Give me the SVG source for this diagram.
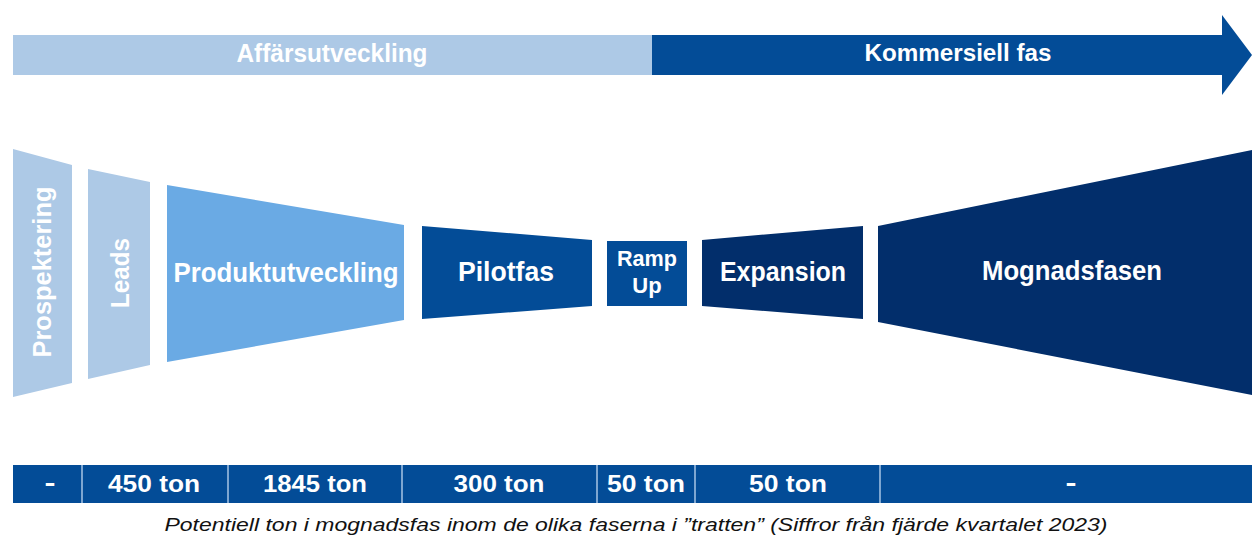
<svg xmlns="http://www.w3.org/2000/svg" width="1252" height="535" viewBox="0 0 1252 535">
  <style>
    .lbl { font-family: "Liberation Sans", Arial, sans-serif; font-weight: bold; fill: #ffffff; }
    .light { fill: #adc9e6; }
    .mid { fill: #6aaae4; }
    .blue { fill: #034c97; }
    .dark { fill: #022e6b; }
    .div { stroke: #a9c4e4; stroke-width: 1.5; }
    .cap { font-family: "Liberation Sans", Arial, sans-serif; font-style: italic; fill: #111111; }
  </style>
  <rect width="1252" height="535" fill="#ffffff"/>

  <!-- Top phase arrow -->
  <g id="phase-affarsutveckling">
    <rect class="light" x="13" y="35" width="640" height="40"/>
    <text class="lbl" x="332" y="62" font-size="25" text-anchor="middle" textLength="191" lengthAdjust="spacingAndGlyphs">Affärsutveckling</text>
  </g>
  <g id="phase-kommersiell">
    <polygon class="blue" points="652,35 1222,35 1222,15 1252,55 1222,95 1222,75 652,75"/>
    <text class="lbl" x="958" y="61" font-size="24" text-anchor="middle" textLength="187" lengthAdjust="spacingAndGlyphs">Kommersiell  fas</text>
  </g>

  <!-- Funnel stages -->
  <g id="prospektering">
    <polygon class="light" points="13,149 72,165 72,383 13,397"/>
    <text class="lbl" font-size="26" text-anchor="middle" transform="translate(51,272) rotate(-90)" textLength="171" lengthAdjust="spacingAndGlyphs">Prospektering</text>
  </g>
  <g id="leads">
    <polygon class="light" points="88,169 150,182 150,365 88,379"/>
    <text class="lbl" font-size="26" text-anchor="middle" transform="translate(129,273) rotate(-90)" textLength="70" lengthAdjust="spacingAndGlyphs">Leads</text>
  </g>
  <g id="produktutveckling">
    <polygon class="mid" points="167,185 404,225 404,320 167,362"/>
    <text class="lbl" x="286" y="282" font-size="28" text-anchor="middle" textLength="225" lengthAdjust="spacingAndGlyphs">Produktutveckling</text>
  </g>
  <g id="pilotfas">
    <polygon class="blue" points="422,226 592,240 592,306 422,319"/>
    <text class="lbl" x="506" y="281" font-size="27" text-anchor="middle" textLength="96" lengthAdjust="spacingAndGlyphs">Pilotfas</text>
  </g>
  <g id="ramp-up">
    <rect class="blue" x="607" y="241" width="80" height="65"/>
    <text class="lbl" x="647" y="266" font-size="22" text-anchor="middle" textLength="60" lengthAdjust="spacingAndGlyphs">Ramp</text>
    <text class="lbl" x="647" y="293" font-size="22" text-anchor="middle">Up</text>
  </g>
  <g id="expansion">
    <polygon class="dark" points="702,240 863,226 863,319 702,306"/>
    <text class="lbl" x="783" y="281" font-size="27" text-anchor="middle" textLength="126" lengthAdjust="spacingAndGlyphs">Expansion</text>
  </g>
  <g id="mognadsfasen">
    <polygon class="dark" points="878,226 1252,150 1252,395 878,322"/>
    <text class="lbl" x="1072" y="280" font-size="27" text-anchor="middle" textLength="180" lengthAdjust="spacingAndGlyphs">Mognadsfasen</text>
  </g>

  <!-- Bottom table -->
  <g id="tonnage-table">
    <rect class="blue" x="13" y="465" width="1239" height="38"/>
    <line class="div" x1="82" y1="465" x2="82" y2="503"/>
    <line class="div" x1="228" y1="465" x2="228" y2="503"/>
    <line class="div" x1="402" y1="465" x2="402" y2="503"/>
    <line class="div" x1="597" y1="465" x2="597" y2="503"/>
    <line class="div" x1="695" y1="465" x2="695" y2="503"/>
    <line class="div" x1="880" y1="465" x2="880" y2="503"/>
    <text class="lbl" x="50" y="491" font-size="26" text-anchor="middle" textLength="11" lengthAdjust="spacingAndGlyphs">-</text>
    <text class="lbl" x="154" y="492" font-size="23" text-anchor="middle" textLength="92" lengthAdjust="spacingAndGlyphs">450 ton</text>
    <text class="lbl" x="315" y="492" font-size="23" text-anchor="middle" textLength="104" lengthAdjust="spacingAndGlyphs">1845 ton</text>
    <text class="lbl" x="499" y="492" font-size="23" text-anchor="middle" textLength="91" lengthAdjust="spacingAndGlyphs">300 ton</text>
    <text class="lbl" x="646" y="492" font-size="23" text-anchor="middle" textLength="78" lengthAdjust="spacingAndGlyphs">50 ton</text>
    <text class="lbl" x="788" y="492" font-size="23" text-anchor="middle" textLength="78" lengthAdjust="spacingAndGlyphs">50 ton</text>
    <text class="lbl" x="1071" y="491" font-size="26" text-anchor="middle" textLength="11" lengthAdjust="spacingAndGlyphs">-</text>
  </g>

  <!-- Caption -->
  <g id="caption">
    <text class="cap" x="636" y="531" font-size="19" text-anchor="middle" textLength="943" lengthAdjust="spacingAndGlyphs">Potentiell ton i mognadsfas inom de olika faserna i ”tratten” (Siffror från fjärde kvartalet 2023)</text>
  </g>
</svg>
